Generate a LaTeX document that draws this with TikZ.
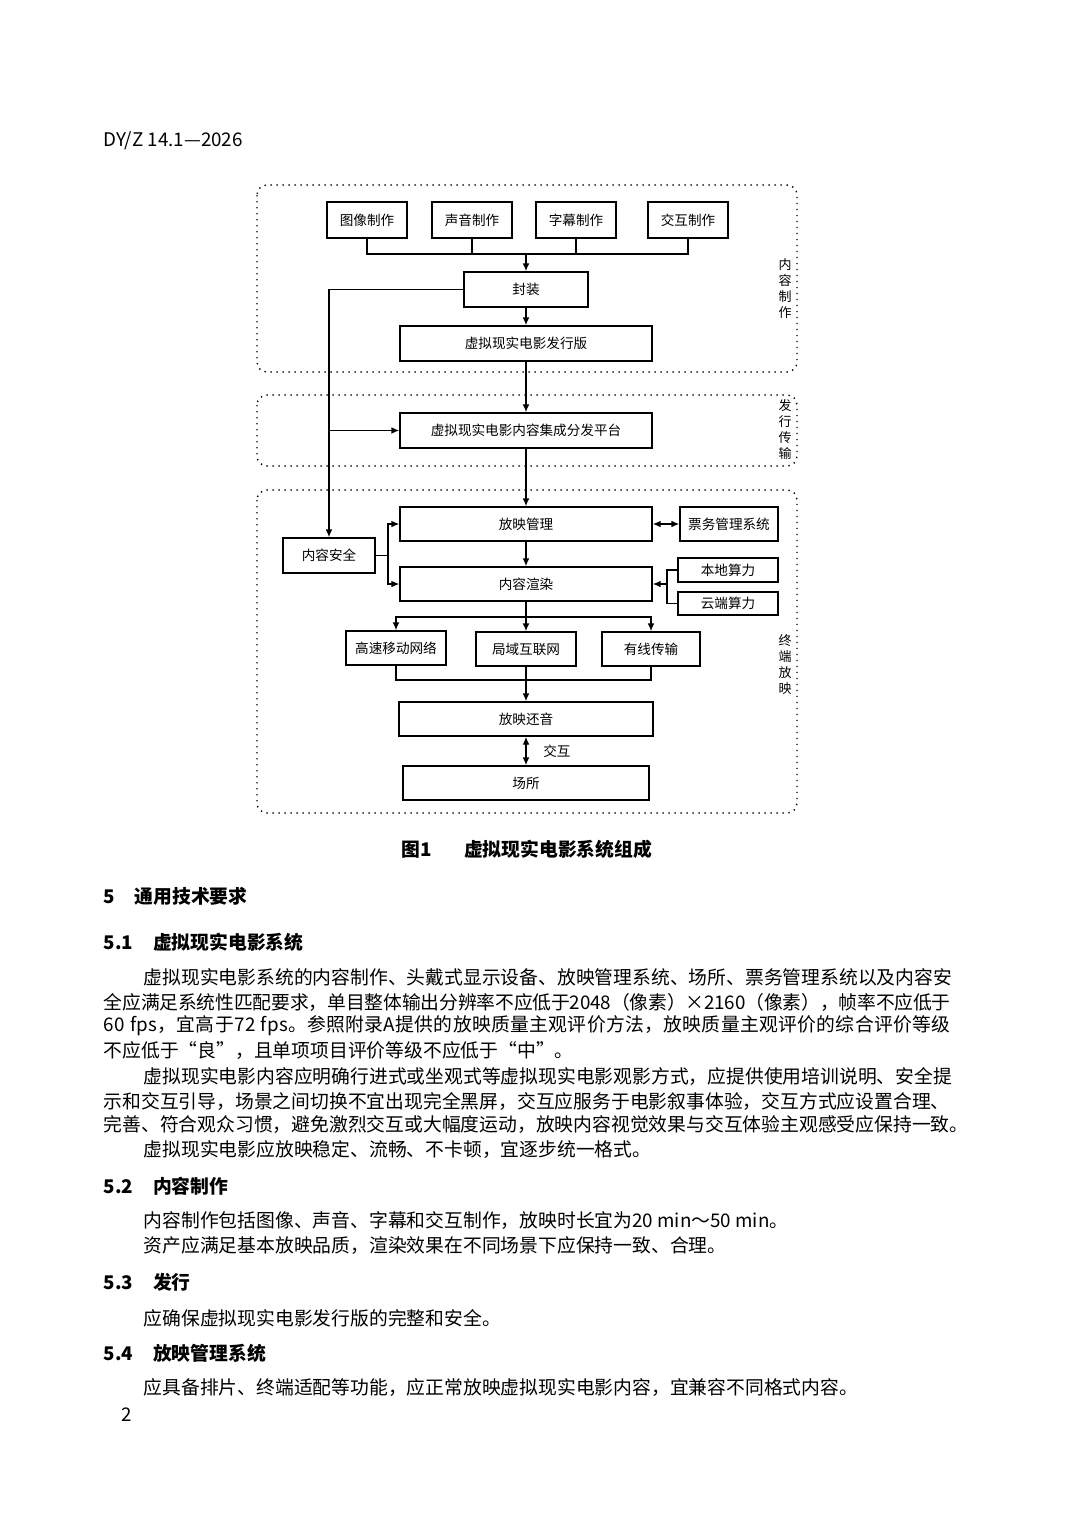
\documentclass[tikz,border=0pt]{standalone}
\usepackage{fontspec}
\setmainfont{Noto Sans CJK SC}
\usetikzlibrary{arrows.meta}
\XeTeXlinebreaklocale "zh"
\XeTeXlinebreakskip=0pt plus 1pt minus 0.3pt
\newcommand\jline[2][423.5pt]{\makebox[#1][s]{#2}}
\begin{document}
\begin{tikzpicture}[x=0.5pt,y=-0.5pt,line width=0.7pt,
  box/.style={draw,minimum height=17.5pt,inner sep=0pt,font=\fontsize{6.8}{8}\selectfont},
  region/.style={dash pattern=on 0.7pt off 2.3pt,rounded corners=5pt},
  side/.style={align=center,inner sep=0pt,font=\fontsize{6.5}{8}\selectfont},
  txt/.style={anchor=west,inner sep=0pt,font=\fontsize{9.4}{12}\selectfont},
  head/.style={anchor=west,inner sep=0pt,font=\fontsize{9.4}{12}\selectfont\bfseries},
  >={Latex[length=4pt,width=3.4pt]}]
\useasboundingbox (0,0) rectangle (1080,1527);
\node[txt] (hdr) at (103,141) {DY/Z 14.1—2026};
\draw[region] (257,185) rectangle (797,372);
\draw[region] (257,395) rectangle (797,466);
\draw[region] (257,490) rectangle (797,813);
\node[side] (s1) at (785,289) {内\\容\\制\\作};
\node[side] (s2) at (785,430) {发\\行\\传\\输};
\node[side] (s3) at (785,665) {终\\端\\放\\映};
\node[box,minimum width=40pt,minimum height=18pt] (tx) at (367,220) {图像制作};
\node[box,minimum width=40pt,minimum height=18pt] (sy) at (472,220) {声音制作};
\node[box,minimum width=40pt,minimum height=18pt] (zm) at (576,220) {字幕制作};
\node[box,minimum width=40pt,minimum height=18pt] (hd) at (688,220) {交互制作};
\node[box,minimum width=62pt] (fz) at (526,289.5) {封装};
\node[box,minimum width=126pt] (fxb) at (526,343.5) {虚拟现实电影发行版};
\node[box,minimum width=126pt] (pt) at (526,430.5) {虚拟现实电影内容集成分发平台};
\node[box,minimum width=126pt,minimum height=17pt] (fygl) at (526,524) {放映管理};
\node[box,minimum width=49pt,minimum height=17pt] (pw) at (729,524) {票务管理系统};
\node[box,minimum width=46pt] (aq) at (329,555.5) {内容安全};
\node[box,minimum width=126pt,minimum height=17pt] (xr) at (526,584) {内容渲染};
\node[box,minimum width=50pt,minimum height=12pt] (bd) at (728,570) {本地算力};
\node[box,minimum width=50pt,minimum height=11.5pt] (yd) at (728,603.5) {云端算力};
\node[box,minimum width=50pt,minimum height=17pt] (gs) at (396,648) {高速移动网络};
\node[box,minimum width=50pt,minimum height=17pt] (jy) at (526,649) {局域互联网};
\node[box,minimum width=49pt,minimum height=17pt] (yx) at (651,649) {有线传输};
\node[box,minimum width=127pt,minimum height=17pt] (hy) at (526,719) {放映还音};
\node[box,minimum width=123pt,minimum height=17pt] (cs) at (526,783) {场所};
\coordinate (b1) at (526,254);
\coordinate (j1) at (388,555.5);
\coordinate (j2) at (667,584);
\coordinate (b2) at (526,617);
\coordinate (b3) at (526,680);
\draw (tx.south) |- (hd.south |- b1) -- (hd.south);
\draw (sy.south) -- (sy.south |- b1) (zm.south) -- (zm.south |- b1);
\draw[->] (b1) -- (fz.north);
\draw[->] (fz) -- (fxb);
\draw[->] (fxb) -- (pt);
\draw[->] (pt) -- (fygl);
\draw[->] (fygl) -- (xr);
\draw[->] (fz.west) -| (aq.north);
\draw[->] (aq.north |- pt.west) -- (pt.west);
\draw[<->] (fygl) -- (pw);
\draw (aq.east) -- (j1);
\draw[->] (j1) |- (fygl.west);
\draw[->] (j1) |- (xr.west);
\draw (bd.west) -| (j2) |- (yd.west);
\draw[->] (j2) -- (xr.east);
\draw (xr.south) -- (b2);
\draw[->] (b2) -| (gs.north);
\draw[->] (b2) -| (yx.north);
\draw[->] (b2) -- (jy.north);
\draw (gs.south) |- (b3) -| (yx.south);
\draw (jy.south) -- (b3);
\draw[->] (b3) -- (hy.north);
\draw[<->] (hy) -- (cs) node[midway,right=5pt,font=\fontsize{6.8}{8}\selectfont] (jh) {交互};
\node[head,anchor=center] (cap) at (527,849) {图1\hspace{16pt}虚拟现实电影系统组成};
\node[head] (h5) at (103,896) {5\hspace{9.8pt}通用技术要求};
\node[head] (h51) at (103,942) {5.1\hspace{10pt}虚拟现实电影系统};
\node[txt] (p1) at (143,977) {\jline[403.5pt]{虚拟现实电影系统的内容制作、头戴式显示设备、放映管理系统、场所、票务管理系统以及内容安}};
\node[txt] (p2) at (103,1002) {\addfontfeature{LetterSpace=-0.8}\jline{全应满足系统性匹配要求，单目整体输出分辨率不应低于2048（像素）×2160（像素），帧率不应低于}};
\node[txt] (p3) at (103,1026) {\addfontfeature{LetterSpace=1.8}\jline{60\hspace{2.6pt}fps，宜高于72\hspace{2.6pt}fps。参照附录A提供的放映质量主观评价方法，放映质量主观评价的综合评价等级}};
\node[txt] (p4) at (103,1051) {不应低于“良”，且单项项目评价等级不应低于“中”。};
\node[txt] (p5) at (143,1076) {\jline[403.5pt]{虚拟现实电影内容应明确行进式或坐观式等虚拟现实电影观影方式，应提供使用培训说明、安全提}};
\node[txt] (p6) at (103,1101) {\jline{示和交互引导，场景之间切换不宜出现完全黑屏，交互应服务于电影叙事体验，交互方式应设置合理、}};
\node[txt] (p7) at (103,1125) {\jline{完善、符合观众习惯，避免激烈交互或大幅度运动，放映内容视觉效果与交互体验主观感受应保持一致。}};
\node[txt] (p8) at (143,1150) {虚拟现实电影应放映稳定、流畅、不卡顿，宜逐步统一格式。};
\node[head] (h52) at (103,1186) {5.2\hspace{10pt}内容制作};
\node[txt] (p9) at (143,1221) {内容制作包括图像、声音、字幕和交互制作，放映时长宜为20 min～50 min。};
\node[txt] (p10) at (143,1246) {资产应满足基本放映品质，渲染效果在不同场景下应保持一致、合理。};
\node[head] (h53) at (103,1282) {5.3\hspace{10pt}发行};
\node[txt] (p11) at (143,1318) {应确保虚拟现实电影发行版的完整和安全。};
\node[head] (h54) at (103,1353) {5.4\hspace{10pt}放映管理系统};
\node[txt] (p12) at (143,1388) {应具备排片、终端适配等功能，应正常放映虚拟现实电影内容，宜兼容不同格式内容。};
\node[txt] (pg) at (121,1415) {2};
\end{tikzpicture}
\end{document}
